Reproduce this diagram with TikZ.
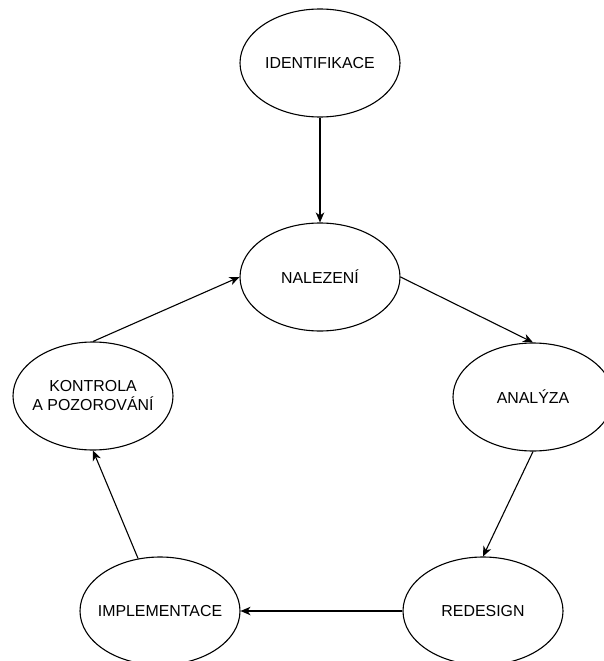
\documentclass[tikz,border=0pt]{standalone}
\usepackage{fontspec}
\setmainfont{Liberation Sans}
\usetikzlibrary{shapes.geometric,arrows.meta}

\begin{document}
\begin{tikzpicture}[x=1pt,y=-1pt,
  krok/.style={ellipse,draw=black,line width=1.1pt,minimum width=160pt,minimum height=108pt,inner xsep=-25pt,inner ysep=0pt,align=center,font=\fontsize{15.9}{19}\selectfont},
  sipka/.style={-{Stealth[length=10pt,width=8.5pt,inset=3pt]},line width=1.1pt}]
\clip (0,0) rectangle (604,661);
\node[krok] (ident) at (320,63) {IDENTIFIKACE};
\node[krok] (nalez) at (320,277) {NALEZENÍ};
\node[krok] (analyza) at (533,397) {ANALÝZA};
\node[krok] (kontrola) at (93,396) {KONTROLA\\A POZOROVÁNÍ};
\node[krok] (impl) at (160,611) {IMPLEMENTACE};
\node[krok] (redesign) at (483,611) {REDESIGN};
\draw[sipka] (ident) -- (nalez);
\draw[sipka] (nalez.east) -- (analyza.north);
\draw[sipka] (analyza.south) -- (redesign.north);
\draw[sipka] (redesign) -- (impl);
\draw[sipka] (impl) -- (kontrola.south);
\draw[sipka] (kontrola.north) -- (nalez.west);
\end{tikzpicture}
\end{document}
